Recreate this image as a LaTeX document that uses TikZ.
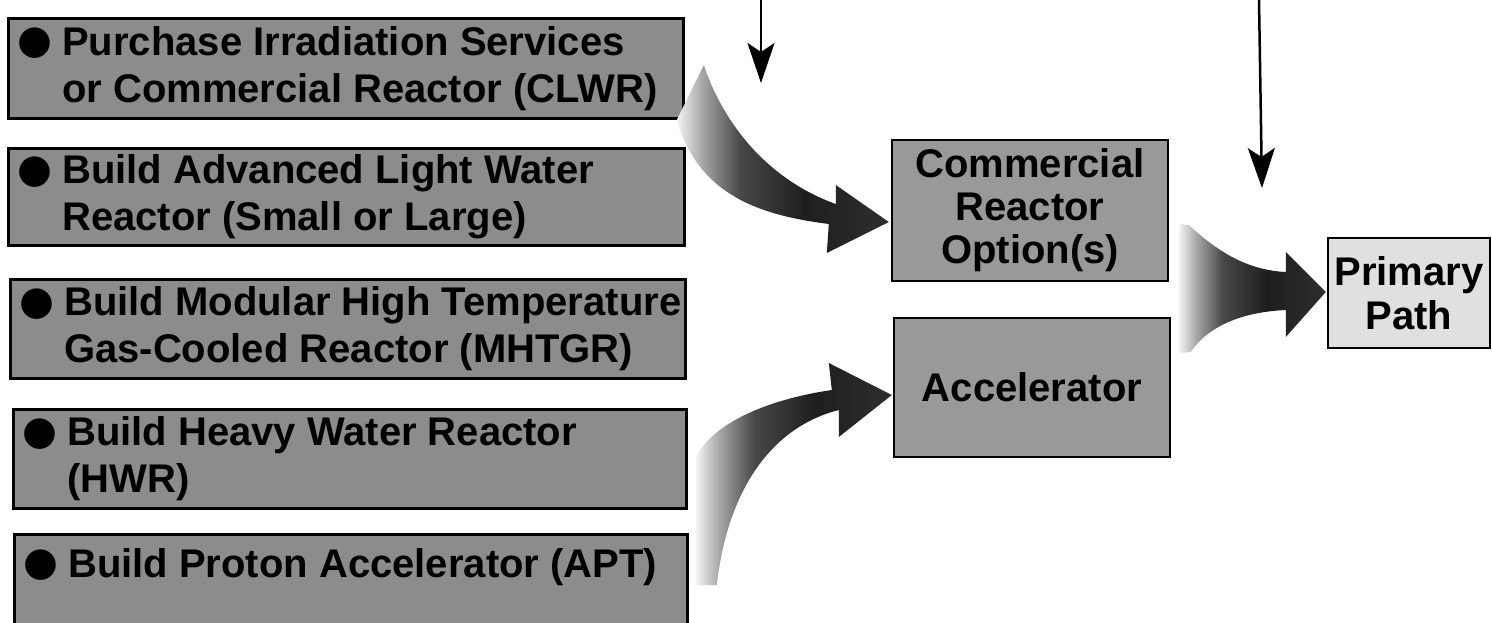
\documentclass[tikz,border=0pt]{standalone}
\usepackage{fontspec}
\setmainfont{Liberation Sans}[FakeStretch=1.0]
\newfontfamily\bulletfont{DejaVu Sans}
\usetikzlibrary{arrows.meta,calc}

% bullet glyph in a fixed-width slot, and the matching hanging indent
\newcommand\bul{\makebox[42pt][l]{\hspace*{-3pt}\raisebox{1.5pt}{\bulletfont\fontsize{40}{40}\selectfont ●}}}
\newcommand\hang{\hspace*{42pt}}

% tone ramp for the broad arrows: pale tail, dark body and head
\pgfdeclarehorizontalshading{tailfade}{100bp}{%
  color(0bp)=(black!4); color(25bp)=(black!4); color(31bp)=(black!35);
  color(40bp)=(black!72); color(55bp)=(black!88); color(75bp)=(black!82);
  color(100bp)=(black!82)}

\begin{document}
\begin{tikzpicture}[x=1pt,y=-1pt,
  optbox/.style={draw=black, line width=2.6pt, fill=black!45, anchor=north west,
                 minimum height=100pt, inner sep=0pt},
  opttext/.style={anchor=west, align=left, inner sep=0pt,
                  font=\bfseries\fontsize{40}{47}\selectfont},
  pathbox/.style={draw=black, line width=2.4pt, fill=black!40, align=center,
                  inner sep=0pt, font=\bfseries\fontsize{40}{43}\selectfont},
  bigarrow/.style={shading=tailfade},
  thinarrow/.style={line width=2.5pt, -{Stealth[length=40pt,width=27pt,inset=9pt]}}]

\clip (0,0) rectangle (1492,622);
\fill[white] (0,0) rectangle (1492,622);

% ---- candidate production options ----
\node[optbox, minimum width=675pt] (o1) at (7,17) {};
\node[opttext] (o1t) at ($(o1.west)+(13,0)$)
  {\bul Purchase Irradiation Services\\\hang or Commercial Reactor (CLWR)};

\node[optbox, minimum width=676pt, minimum height=97pt] (o2) at (7,147) {};
\node[opttext] (o2t) at ($(o2.west)+(13,0)$)
  {\bul Build Advanced Light Water\\\hang Reactor (Small or Large)};

\node[optbox, minimum width=675pt, minimum height=99pt] (o3) at (9,278) {};
\node[opttext] (o3t) at ($(o3.west)+(13,0)$)
  {\bul Build Modular High Temperature\\\hang Gas-Cooled Reactor (MHTGR)};

\node[optbox, minimum width=673pt, minimum height=99pt] (o4) at (12,408) {};
\node[opttext] (o4t) at ($(o4.west)+(13,0)$)
  {\bul Build Heavy Water Reactor\\\hang (HWR)};

\node[optbox, minimum width=673pt, minimum height=110pt] (o5) at (13,533) {};
\node[opttext] (o5t) at ($(o5.north west)+(13,34)$)
  {\bul Build Proton Accelerator (APT)};

% ---- grouped options ----
\node[pathbox, minimum width=276pt, minimum height=141pt] (cro) at (1030,210.5)
  {Commercial\\Reactor\\Option(s)};
\node[pathbox, minimum width=276pt, minimum height=139pt] (acc) at (1032,387.5)
  {Accelerator};
\node[pathbox, fill=black!12, minimum width=162pt, minimum height=110pt,
      font=\bfseries\fontsize{40}{44}\selectfont] (pp) at (1409,293)
  {Primary\\Path};

% ---- broad shaded arrows ----
\coordinate (t1) at ($(cro.west)+(-2,11.5)$);
\coordinate (t2) at ($(acc.west)+(-1,7.5)$);
\coordinate (t3) at ($(pp.west)+(-1,-1)$);

\path[bigarrow, shift={(t1)}]
  (-185,-157) .. controls (-165,-97) and (-120,-42) .. (-53,-18)
  -- (-53,-37) -- (0,0) -- (-62,31) -- (-60,2)
  .. controls (-130,-7) and (-190,-27) .. (-212,-102) -- cycle;

\path[bigarrow, shift={(t2)}]
  (-196,63) .. controls (-181,30) and (-128,5) .. (-60,-5)
  -- (-63,-32) -- (0,0) -- (-53,42) -- (-53,15)
  .. controls (-113,30) and (-163,85) .. (-175,190)
  -- (-196,190) -- cycle;

\path[bigarrow, shift={(t3)}]
  (-137,-67) .. controls (-112,-44) and (-82,-22) .. (-40,-20)
  -- (-40,-40) -- (0,0) -- (-40,45) -- (-40,18)
  .. controls (-82,20) and (-117,33) .. (-135,60)
  -- (-147,61) -- (-147,-68) -- cycle;

% ---- incoming thin arrows ----
\coordinate (a1s) at (761,0);
\coordinate (a1e) at (761,83);
\coordinate (a2s) at (1259,0);
\coordinate (a2e) at (1262,188);
\draw[thinarrow] (a1s) -- (a1e);
\draw[thinarrow] (a2s) -- (a2e);
\end{tikzpicture}
\end{document}
